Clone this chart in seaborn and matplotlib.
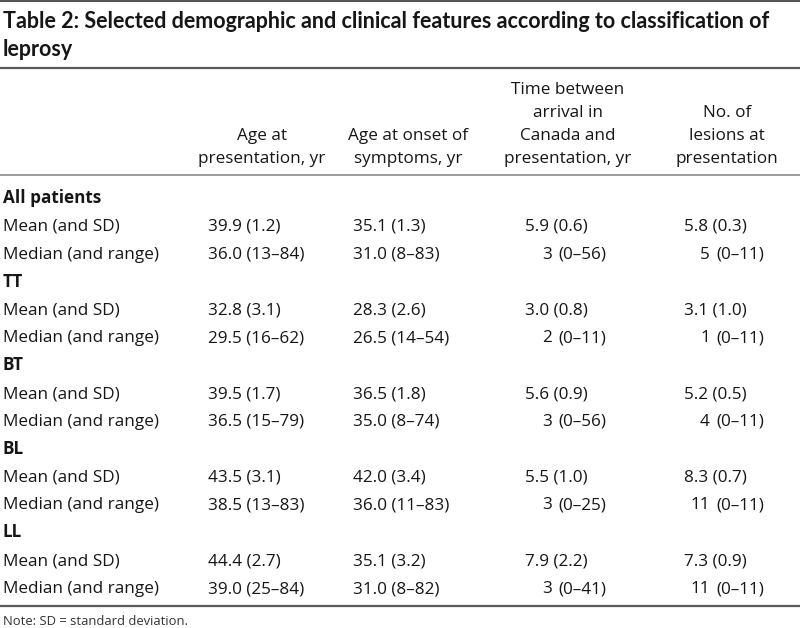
import matplotlib
matplotlib.use("Agg")
import matplotlib.pyplot as plt
import seaborn as sns

# ---------------- data ----------------
groups = ["All patients", "TT", "BT", "BL", "LL"]
row_labels = ["Mean (and SD)", "Median (and range)"]
col_headers = [
    ["Age at", "presentation, yr"],
    ["Age at onset of", "symptoms, yr"],
    ["Time between", "arrival in", "Canada and", "presentation, yr"],
    ["No. of", "lesions at", "presentation"],
]
age_pres_mean = [39.9, 32.8, 39.5, 43.5, 44.4]
age_pres_sd = [1.2, 3.1, 1.7, 3.1, 2.7]
age_pres_median = [36.0, 29.5, 36.5, 38.5, 39.0]
age_pres_range = [(13, 84), (16, 62), (15, 79), (13, 83), (25, 84)]

onset_mean = [35.1, 28.3, 36.5, 42.0, 35.1]
onset_sd = [1.3, 2.6, 1.8, 3.4, 3.2]
onset_median = [31.0, 26.5, 35.0, 36.0, 31.0]
onset_range = [(8, 83), (14, 54), (8, 74), (11, 83), (8, 82)]

time_mean = [5.9, 3.0, 5.6, 5.5, 7.9]
time_sd = [0.6, 0.8, 0.9, 1.0, 2.2]
time_median = [3, 2, 3, 3, 3]
time_range = [(0, 56), (0, 11), (0, 56), (0, 25), (0, 41)]

lesion_mean = [5.8, 3.1, 5.2, 8.3, 7.3]
lesion_sd = [0.3, 1.0, 0.5, 0.7, 0.9]
lesion_median = [5, 1, 4, 11, 11]
lesion_range = [(0, 11), (0, 11), (0, 11), (0, 11), (0, 11)]

title_lines = ["Table 2: Selected demographic and clinical features according to classification of",
               "leprosy"]
note = "Note: SD = standard deviation."

# ---------------- style ----------------
sns.set_theme(style="white")
BODYFONT = ["Open Sans", "DejaVu Sans"]
TITLEFONT = ["Lato", "DejaVu Sans"]
plt.rcParams["font.family"] = BODYFONT
TXT = "#161616"
RULE = "#5a5a5a"

fig = plt.figure(figsize=(8, 6.28), dpi=100)
ax = fig.add_axes([0, 0, 1, 1])
ax.set_xlim(0, 800)
ax.set_ylim(628, 0)
ax.axis("off")

BODY = 12.3
TITLE = 15.5

# title
for i, t in enumerate(title_lines):
    ax.text(3, 28 + 28 * i, t, fontsize=TITLE, fontweight="bold", color=TXT,
            family=TITLEFONT, ha="left", va="baseline")

# rules
ax.axhline(1, color="#333333", lw=1.2)
ax.axhline(68, color=RULE, lw=1.6)
ax.axhline(175, color="#8a8a8a", lw=1.2)
ax.axhline(606, color=RULE, lw=1.6)

# column headers
col_centers = [262, 408, 568, 727]
for cx, lines in zip(col_centers, col_headers):
    n = len(lines)
    for j, line in enumerate(lines):
        y = 163 - 23 * (n - 1 - j)
        ax.text(cx, y, line, fontsize=BODY, color=TXT, ha="center", va="baseline")

def dash(r):
    return f"{r[0]}\u2013{r[1]}"

pitch = 27.86
base = 203
left_cols = [(208, age_pres_mean, age_pres_sd, age_pres_median, age_pres_range),
             (353, onset_mean, onset_sd, onset_median, onset_range)]
int_cols = [(525, 552, 558, time_mean, time_sd, time_median, time_range),
            (684, 710, 716, lesion_mean, lesion_sd, lesion_median, lesion_range)]

for g, grp in enumerate(groups):
    y0 = base + pitch * (3 * g)
    ax.text(3, y0, grp, fontsize=BODY, fontweight="bold", color=TXT,
            ha="left", va="baseline")
    ym = y0 + pitch
    yd = y0 + 2 * pitch
    ax.text(3, ym, row_labels[0], fontsize=BODY, color=TXT, ha="left", va="baseline")
    ax.text(3, yd, row_labels[1], fontsize=BODY, color=TXT, ha="left", va="baseline")
    for x, mean, sd, med, rng in left_cols:
        ax.text(x, ym, f"{mean[g]:.1f} ({sd[g]:.1f})", fontsize=BODY, color=TXT,
                ha="left", va="baseline")
        ax.text(x, yd, f"{med[g]:.1f} ({dash(rng[g])})", fontsize=BODY, color=TXT,
                ha="left", va="baseline")
    for x, xr, xp, mean, sd, med, rng in int_cols:
        ax.text(x, ym, f"{mean[g]:.1f} ({sd[g]:.1f})", fontsize=BODY, color=TXT,
                ha="left", va="baseline")
        ax.text(xr, yd, f"{med[g]}", fontsize=BODY, color=TXT, ha="right", va="baseline")
        ax.text(xp, yd, f"({dash(rng[g])})", fontsize=BODY, color=TXT,
                ha="left", va="baseline")

ax.text(3, 625, note, fontsize=9.4, color="#333333", ha="left", va="baseline")

fig.savefig("out.png", dpi=100, facecolor="white")
